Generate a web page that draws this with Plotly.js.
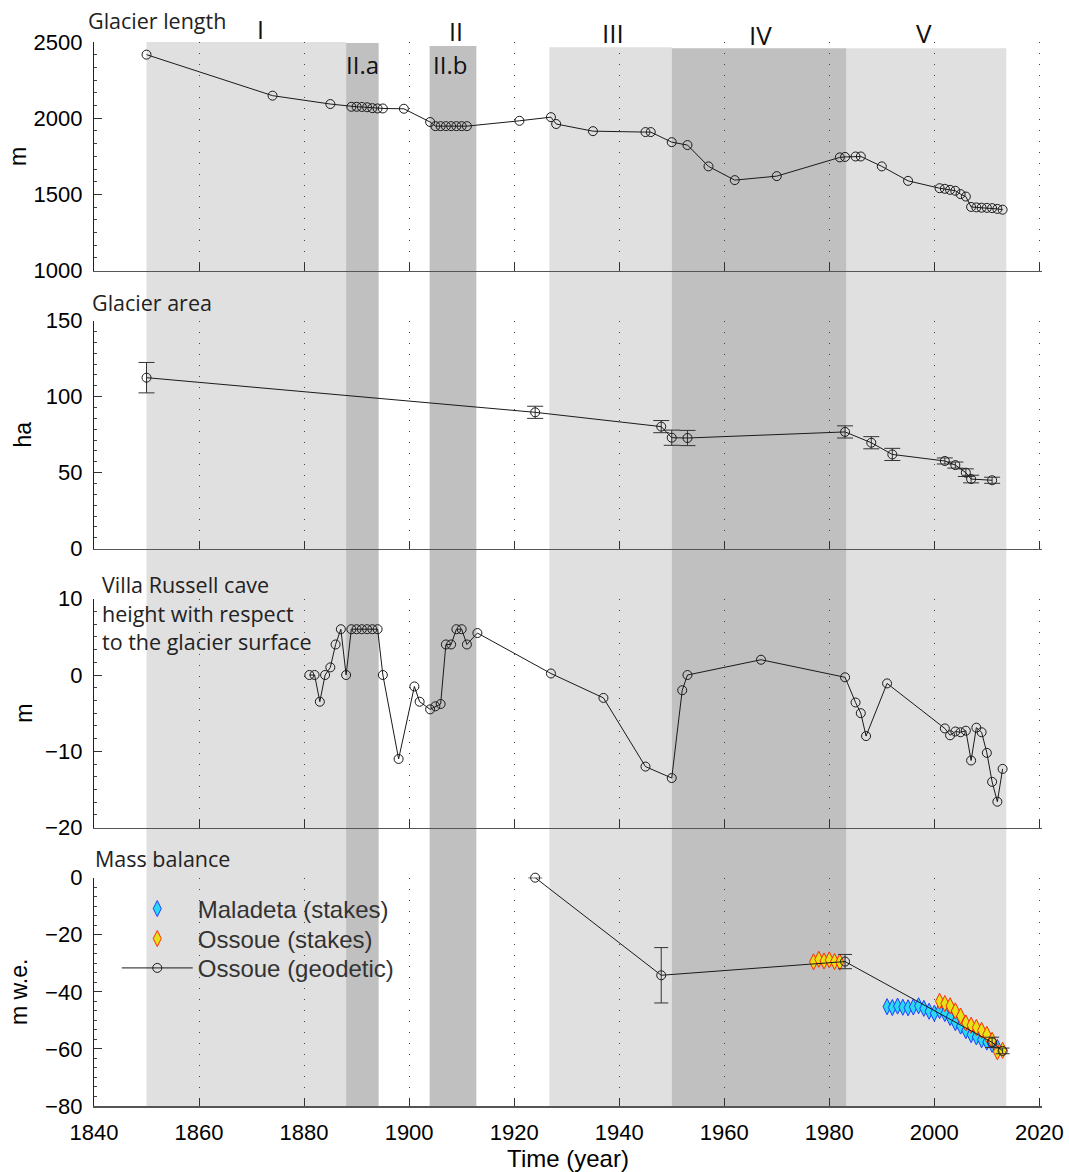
<!DOCTYPE html>
<html>
<head>
<meta charset="utf-8">
<script src="https://cdn.plot.ly/plotly-3.0.1.min.js"></script>
<style>html,body{margin:0;padding:0;background:#fff;}#chart{width:1069px;height:1172px;}</style>
</head>
<body>
<div id="chart"></div>
<script>
// ---------------- DATA ----------------
const xTickVals = [1840, 1860, 1880, 1900, 1920, 1940, 1960, 1980, 2000, 2020];
const xTickText = ['1840', '1860', '1880', '1900', '1920', '1940', '1960', '1980', '2000', '2020'];

// Glacier length (m)
const lengthYears = [1850, 1874, 1885, 1889, 1890, 1891, 1892, 1893, 1894, 1895, 1899, 1904,
  1905, 1906, 1907, 1908, 1909, 1910, 1911, 1921, 1927, 1928, 1935, 1945, 1946, 1950, 1953,
  1957, 1962, 1970, 1982, 1983, 1985, 1986, 1990, 1995, 2001, 2002, 2003, 2004, 2005, 2006,
  2007, 2008, 2009, 2010, 2011, 2012, 2013];
const lengthValues = [2417, 2148, 2093, 2075, 2075, 2074, 2072, 2066, 2064, 2064, 2062, 1975,
  1948, 1948, 1948, 1948, 1948, 1948, 1948, 1983, 2007, 1962, 1915, 1909, 1909, 1843, 1824,
  1684, 1594, 1620, 1743, 1746, 1749, 1749, 1684, 1589, 1541, 1537, 1530, 1524, 1502, 1486,
  1418, 1415, 1413, 1412, 1410, 1405, 1400];
const lengthTicks = [1000, 1500, 2000, 2500];

// Glacier area (ha)
const areaYears = [1850, 1924, 1948, 1950, 1953, 1983, 1988, 1992, 2002, 2004, 2006, 2007, 2011];
const areaValues = [112.5, 89.7, 80.3, 73.0, 72.8, 76.8, 69.7, 62.0, 57.7, 55.0, 50.0, 45.8, 45.0];
const areaErrors = [10, 4, 4, 5, 5, 4, 4, 4, 2, 2, 2.5, 2.5, 2];
const areaTicks = [0, 50, 100, 150];

// Villa Russell cave height with respect to the glacier surface (m)
const caveYears = [1881, 1882, 1883, 1884, 1885, 1886, 1887, 1888, 1889, 1890, 1891, 1892, 1893,
  1894, 1895, 1898, 1901, 1902, 1904, 1905, 1906, 1907, 1908, 1909, 1910, 1911, 1913, 1927,
  1937, 1945, 1950, 1952, 1953, 1967, 1983, 1985, 1986, 1987, 1991, 2002, 2003, 2004, 2005,
  2006, 2007, 2008, 2009, 2010, 2011, 2012, 2013];
const caveValues = [0, 0, -3.5, 0, 1, 4, 6, 0, 6, 6, 6, 6, 6,
  6, 0, -11, -1.5, -3.5, -4.5, -4.1, -3.8, 4, 4, 6, 6, 4, 5.5, 0.2,
  -3, -12, -13.5, -2, 0, 2, -0.3, -3.6, -5, -8, -1.1, -7, -7.9, -7.4, -7.5,
  -7.3, -11.2, -6.9, -7.5, -10.2, -14, -16.6, -12.3];
const caveTicks = [-20, -10, 0, 10];

// Mass balance (m w.e.)
const maladetaYears = [1991, 1992, 1993, 1994, 1995, 1996, 1997, 1998, 1999, 2000, 2001,
  2002, 2003, 2004, 2005, 2006, 2007, 2008, 2009, 2010, 2011, 2012];
const maladetaValues = [-45.2, -45.5, -45.0, -45.4, -45.6, -45.3, -44.9, -45.8, -46.8, -47.5, -46.6,
  -47.6, -49.0, -50.8, -52.0, -53.6, -55.0, -55.8, -56.8, -57.6, -58.4, -59.5];
const ossoueStakeYears = [1977, 1978, 1979, 1980, 1981, 1982,
  2001, 2002, 2003, 2004, 2005, 2006, 2007, 2008, 2009, 2010, 2011, 2012, 2013];
const ossoueStakeValues = [-29.5, -28.6, -29.2, -28.8, -29.4, -29.6,
  -43.3, -44.1, -44.9, -46.7, -48.5, -50.9, -51.7, -52.5, -53.5, -54.9, -57.0, -61.0, -60.5];
const geodeticYears = [1924, 1948, 1983, 2011, 2013];
const geodeticValues = [0, -34.2, -29.4, -57.7, -60.7];
const geodeticErrors = [0, 9.7, 2.5, 1.8, 1];
const massTicks = [-80, -60, -40, -20, 0];

// Periods (years)
const periodNames = ['I', 'II.a', 'II.b', 'III', 'IV', 'V'];
const periodStart = [1850, 1888, 1903.9, 1926.7, 1950, 1983.3];
const periodEnd = [1888, 1894.2, 1912.8, 1950, 1983.3, 2013.7];

// ---------------- STYLE ----------------
const tickFont = {family: 'Liberation Sans, Arial, sans-serif', size: 22, color: '#000'};
const titleFont = {family: 'Liberation Sans, Arial, sans-serif', size: 23, color: '#000'};
const labelFont = {family: 'Open Sans, sans-serif', size: 21.5, color: '#222'};
const romanFont = {family: 'Open Sans, sans-serif', size: 25, color: '#111'};
const lineColor = '#1a1a1a';

const periodFill = ['#e0e0e0', '#c0c0c0', '#c0c0c0', '#e0e0e0', '#c0c0c0', '#e0e0e0'];
const periodTop = [1.0, 0.999, 0.9962, 0.995, 0.9941, 0.9941];

const domains = [[0.7851, 1.0], [0.5238, 0.7381], [0.2616, 0.4768], [0.0, 0.2146]];
const xRange = [1840, 2020.5];

function xAxis(anchor, labels) {
  const a = {
    anchor: anchor, domain: [0, 1], range: xRange,
    tickmode: 'array', tickvals: xTickVals, ticktext: xTickText,
    ticks: 'inside', ticklen: 8, tickwidth: 1, tickcolor: '#333',
    showline: true, linecolor: '#555', linewidth: 1.5,
    showgrid: true, gridcolor: '#444', gridwidth: 1, griddash: '1px,10px',
    zeroline: false, showticklabels: labels, tickfont: tickFont, fixedrange: true
  };
  if (labels) {
    a.title = {text: 'Time (year)', font: {family: 'Liberation Sans, Arial, sans-serif', size: 24, color: '#000'}, standoff: 8};
    a.ticklabelstandoff = 6;
  }
  return a;
}
function yAxis(anchor, domainIdx, range, tickvals, minorDtick, title, standoff) {
  return {
    anchor: anchor, domain: domains[domainIdx], range: range,
    tickmode: 'array', tickvals: tickvals,
    ticks: 'inside', ticklen: 8, tickwidth: 1, tickcolor: '#333',
    minor: {ticks: 'inside', ticklen: 3, tickcolor: '#444', dtick: minorDtick, showgrid: false},
    showline: true, linecolor: '#222', linewidth: 1.2,
    showgrid: false, zeroline: false, tickfont: tickFont, ticklabelstandoff: 6,
    title: {text: title, font: titleFont, standoff: standoff}, fixedrange: true
  };
}

const circleMarker = {symbol: 'circle-open', size: 9, color: lineColor, line: {width: 1, color: lineColor}};

const traces = [
  {x: lengthYears, y: lengthValues, xaxis: 'x', yaxis: 'y', mode: 'lines+markers',
   line: {color: lineColor, width: 1}, marker: circleMarker, showlegend: false},
  {x: areaYears, y: areaValues, xaxis: 'x2', yaxis: 'y2', mode: 'lines+markers',
   line: {color: lineColor, width: 1}, marker: circleMarker, showlegend: false,
   error_y: {type: 'data', array: areaErrors, visible: true, color: '#333', thickness: 1, width: 8}},
  {x: caveYears, y: caveValues, xaxis: 'x3', yaxis: 'y3', mode: 'lines+markers',
   line: {color: lineColor, width: 1}, marker: circleMarker, showlegend: false},
  {x: maladetaYears, y: maladetaValues, xaxis: 'x4', yaxis: 'y4', mode: 'markers',
   name: 'Maladeta (stakes)', legend: 'legend',
   marker: {symbol: 'diamond-tall', size: 11.5, color: '#2ad8f0', line: {width: 1, color: '#1f3cff'}}},
  {x: ossoueStakeYears, y: ossoueStakeValues, xaxis: 'x4', yaxis: 'y4', mode: 'markers',
   name: 'Ossoue (stakes)', legend: 'legend2',
   marker: {symbol: 'diamond-tall', size: 11.5, color: '#e6e21a', line: {width: 1, color: '#ff2a00'}}},
  {x: geodeticYears, y: geodeticValues, xaxis: 'x4', yaxis: 'y4', mode: 'lines+markers',
   name: 'Ossoue (geodetic)', legend: 'legend3', cliponaxis: false,
   line: {color: lineColor, width: 1}, marker: circleMarker,
   error_y: {type: 'data', array: geodeticErrors, visible: true, color: '#333', thickness: 1, width: 7}}
];

const shapes = periodNames.map((n, i) => ({
  type: 'rect', xref: 'x4', yref: 'paper', x0: periodStart[i], x1: periodEnd[i],
  y0: 0, y1: periodTop[i], fillcolor: periodFill[i], line: {width: 0}, layer: 'below'
}));

const romanX = [1871.7, 1909.0, 1891.1, 1907.7, 1938.8, 1966.9, 1998.0];
const romanText = ['I', 'II', 'II.a', 'II.b', 'III', 'IV', 'V'];
const romanY = [1.0122, 1.0103, 0.9793, 0.9793, 1.0082, 1.0066, 1.0082];
const romanSize = [25, 25, 24, 24, 26, 26, 26];

const annotations = romanText.map((t, i) => ({
  text: t, xref: 'x4', yref: 'paper', x: romanX[i], y: romanY[i], showarrow: false,
  xanchor: 'center', yanchor: 'middle', font: Object.assign({}, romanFont, {size: romanSize[i]})
}));
const panelLabels = [
  ['Glacier length', -0.0088, 1.0201],
  ['Glacier area', -0.004, 0.755],
  ['Villa Russell cave', 0.0065, 0.4897],
  ['height with respect', 0.0065, 0.4631],
  ['to the glacier surface', 0.0065, 0.4364],
  ['Mass balance', -0.001, 0.2328]
];
panelLabels.forEach(p => annotations.push({
  text: p[0], xref: 'paper', yref: 'paper', x: p[1], y: p[2], showarrow: false,
  xanchor: 'left', yanchor: 'middle', font: labelFont
}));

const legendBase = {
  xref: 'paper', yref: 'paper', x: 0.024, xanchor: 'left', yanchor: 'middle',
  bgcolor: 'rgba(0,0,0,0)', borderwidth: 0, itemwidth: 71,
  font: {family: 'Liberation Sans, Arial, sans-serif', size: 24, color: '#333'}
};

const layout = {
  width: 1069, height: 1172,
  margin: {l: 94, r: 27, t: 42, b: 66, pad: 0},
  paper_bgcolor: '#fff', plot_bgcolor: 'rgba(0,0,0,0)',
  showlegend: true,
  xaxis: xAxis('y', false),
  xaxis2: xAxis('y2', false),
  xaxis3: xAxis('y3', false),
  xaxis4: xAxis('y4', true),
  yaxis: yAxis('x', 0, [1000, 2500], lengthTicks, 500 / 6, 'm', 0),
  yaxis2: yAxis('x2', 1, [0, 150], areaTicks, 50 / 7, 'ha', 7),
  yaxis3: yAxis('x3', 2, [-20, 10], caveTicks, 10 / 6, 'm', 6),
  yaxis4: yAxis('x4', 3, [-80, 0], massTicks, 20 / 6, 'm w.e.', 11),
  legend: Object.assign({}, legendBase, {y: 0.1852}),
  legend2: Object.assign({}, legendBase, {y: 0.157}),
  legend3: Object.assign({}, legendBase, {y: 0.1294}),
  shapes: shapes,
  annotations: annotations
};

Plotly.newPlot('chart', traces, layout, {staticPlot: true, displayModeBar: false});
</script>
</body>
</html>
